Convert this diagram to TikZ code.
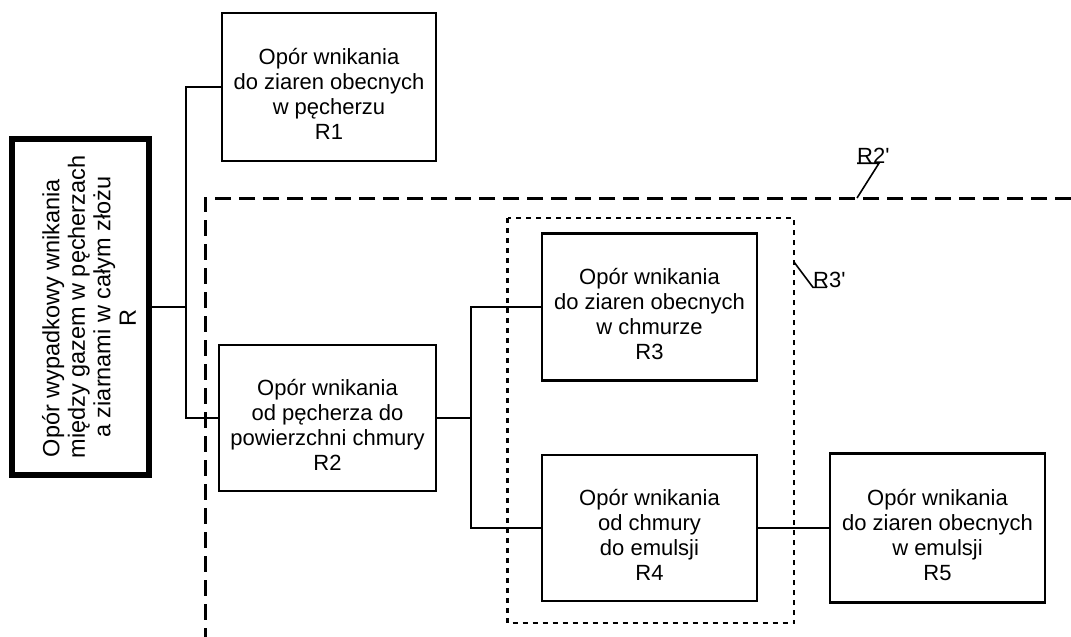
\documentclass[tikz,border=0pt]{standalone}
\usepackage{fontspec}
\setmainfont{Liberation Sans}
\newfontfamily\lblfont{Liberation Sans}
\newcommand\boxtop{\rule{0pt}{30pt}}
\newcommand\mainboxtop{\rule{0pt}{34pt}}
\begin{document}
\begin{tikzpicture}[x=1pt,y=-1pt,
  txt/.style={font=\fontsize{22}{25}\selectfont},
  box/.style={draw, line width=2.6pt, minimum width=215pt, minimum height=147pt, align=center, inner sep=0pt, txt},
  mainbox/.style={draw, line width=5.5pt, minimum width=336pt, minimum height=137pt, rotate=90,
    align=center, inner sep=0pt, font=\fontsize{23.5}{25.5}\selectfont},
  wire/.style={line width=2.6pt},
  rtwodash/.style={line width=3pt, dash pattern=on 16pt off 8pt},
  rthreedot/.style={line width=2.6pt, dash pattern=on 5pt off 5pt},
  lbl/.style={inner sep=0pt, font=\lblfont\fontsize{22}{25}\selectfont},
  lead/.style={line width=1.6pt}]
\useasboundingbox (0,0) rectangle (1071,637);

% outer groupings
\draw[rtwodash] (1071,198) -- (205,198) -- (205,637);
\draw[rthreedot] (507.5,218) rectangle (794,623);

% nodes
\node[mainbox] (R) at (80.5,307) {\mainboxtop Opór wypadkowy wnikania\hspace*{22pt}\\między gazem w pęcherzach\hspace*{22pt}\\a ziarnami w całym złożu\hspace*{22pt}\\R\hspace*{22pt}};
\node[box, minimum width=214pt, minimum height=148pt] (R1) at (329,87) {\boxtop Opór wnikania\\do ziaren obecnych\\w pęcherzu\\R1};
\node[box, minimum width=217pt, minimum height=146pt] (R2) at (327.5,418) {\boxtop Opór wnikania\\od pęcherza do\\powierzchni chmury\\R2};
\node[box] (R3) at (649.5,307) {\boxtop Opór wnikania\\do ziaren obecnych\\w chmurze\\R3};
\node[box, minimum height=146pt] (R4) at (649.5,528) {\boxtop Opór wnikania\\od chmury\\do emulsji\\R4};
\node[box, minimum height=149pt] (R5) at (937.5,528) {\boxtop Opór wnikania\\do ziaren obecnych\\w emulsji\\R5};

% connectors
\coordinate (j1) at (186,307);
\coordinate (j2) at (471,418);
\draw[wire] (R.south) -- (j1);
\draw[wire] (R1.west) -| (j1) |- (R2.west);
\draw[wire] (R2.east) -- (j2);
\draw[wire] (R3.west) -| (j2) |- (R4.west);
\draw[wire] (R4.east) -- (R5.west);

% labels
\node[lbl, anchor=base west] (r2l) at (857,163) {R2'};
\coordinate (c2) at (857,198);
\draw[lead] (r2l.south west) -- ++(22,0) -- (c2);
\node[lbl, anchor=base west] (r3l) at (813,287) {R3'};
\coordinate (c3) at (794,262);
\draw[lead] (c3) -- (r3l.south west) -- ++(14,0);
\end{tikzpicture}
\end{document}
